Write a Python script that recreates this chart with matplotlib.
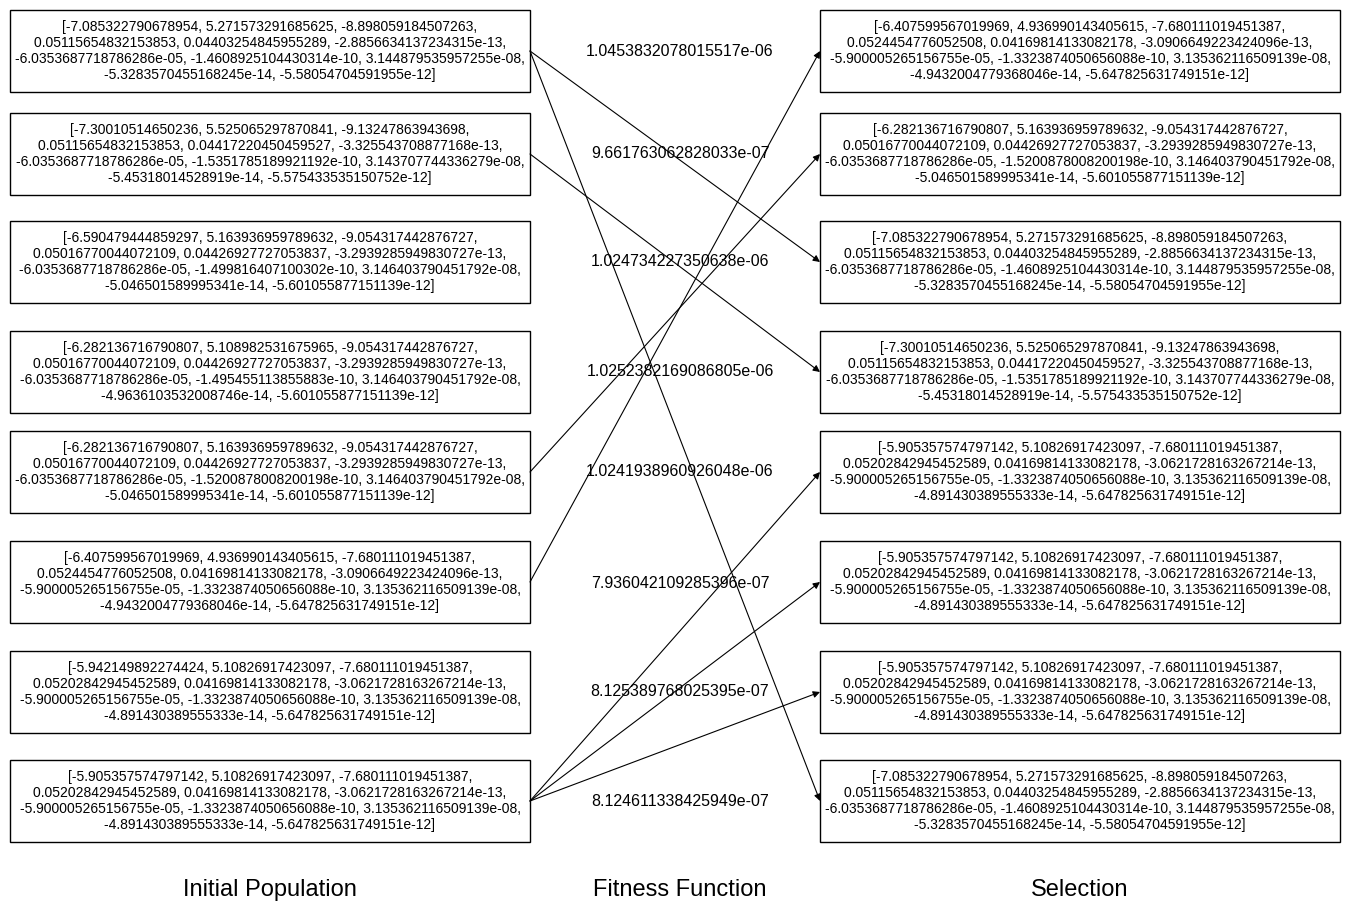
import matplotlib
matplotlib.use("Agg")
import matplotlib.pyplot as plt
from matplotlib.patches import Rectangle

plt.rcParams['font.family'] = ['Liberation Sans', 'DejaVu Sans']

population = [
    "[-7.085322790678954, 5.271573291685625, -8.898059184507263,\n0.05115654832153853, 0.04403254845955289, -2.8856634137234315e-13,\n-6.0353687718786286e-05, -1.4608925104430314e-10, 3.144879535957255e-08,\n-5.3283570455168245e-14, -5.58054704591955e-12]",
    "[-7.30010514650236, 5.525065297870841, -9.13247863943698,\n0.05115654832153853, 0.04417220450459527, -3.325543708877168e-13,\n-6.0353687718786286e-05, -1.5351785189921192e-10, 3.143707744336279e-08,\n-5.45318014528919e-14, -5.575433535150752e-12]",
    "[-6.590479444859297, 5.163936959789632, -9.054317442876727,\n0.05016770044072109, 0.04426927727053837, -3.2939285949830727e-13,\n-6.0353687718786286e-05, -1.499816407100302e-10, 3.146403790451792e-08,\n-5.046501589995341e-14, -5.601055877151139e-12]",
    "[-6.282136716790807, 5.108982531675965, -9.054317442876727,\n0.05016770044072109, 0.04426927727053837, -3.2939285949830727e-13,\n-6.0353687718786286e-05, -1.495455113855883e-10, 3.146403790451792e-08,\n-4.9636103532008746e-14, -5.601055877151139e-12]",
    "[-6.282136716790807, 5.163936959789632, -9.054317442876727,\n0.05016770044072109, 0.04426927727053837, -3.2939285949830727e-13,\n-6.0353687718786286e-05, -1.5200878008200198e-10, 3.146403790451792e-08,\n-5.046501589995341e-14, -5.601055877151139e-12]",
    "[-6.407599567019969, 4.936990143405615, -7.680111019451387,\n0.0524454776052508, 0.04169814133082178, -3.0906649223424096e-13,\n-5.900005265156755e-05, -1.3323874050656088e-10, 3.135362116509139e-08,\n-4.9432004779368046e-14, -5.647825631749151e-12]",
    "[-5.942149892274424, 5.10826917423097, -7.680111019451387,\n0.05202842945452589, 0.04169814133082178, -3.0621728163267214e-13,\n-5.900005265156755e-05, -1.3323874050656088e-10, 3.135362116509139e-08,\n-4.891430389555333e-14, -5.647825631749151e-12]",
    "[-5.905357574797142, 5.10826917423097, -7.680111019451387,\n0.05202842945452589, 0.04169814133082178, -3.0621728163267214e-13,\n-5.900005265156755e-05, -1.3323874050656088e-10, 3.135362116509139e-08,\n-4.891430389555333e-14, -5.647825631749151e-12]",
]
fitness = ["1.0453832078015517e-06", "9.661763062828033e-07", "1.024734227350638e-06",
           "1.0252382169086805e-06", "1.0241938960926048e-06", "7.936042109285396e-07",
           "8.125389768025395e-07", "8.124611338425949e-07"]
# selection[i] = index of the initial individual chosen for slot i
selection = [5, 4, 0, 1, 7, 7, 7, 0]
stage_labels = ["Initial Population", "Fitness Function", "Selection"]

box_tops = [10, 113, 221, 331, 431, 541, 651, 760]
box_h = 82
left_x, right_x, box_w = 10, 820, 520
fit_y = [51, 153, 262, 372, 472, 584, 691, 801]

fig = plt.figure(figsize=(13.51, 9.15), dpi=100)
ax = fig.add_axes([0, 0, 1, 1])
ax.set_xlim(0, 1351)
ax.set_ylim(915, 0)
ax.axis("off")

for i, top in enumerate(box_tops):
    ax.add_patch(Rectangle((left_x, top), box_w, box_h, fill=False, lw=1, ec="black"))
    ax.text(left_x + box_w / 2, top + box_h / 2, population[i], ha="center", va="center",
            fontsize=10.0, linespacing=1.2)
    ax.add_patch(Rectangle((right_x, top), box_w, box_h, fill=False, lw=1, ec="black"))
    ax.text(right_x + box_w / 2, top + box_h / 2, population[selection[i]], ha="center",
            va="center", fontsize=10.0, linespacing=1.2)
    ax.text(680, fit_y[i], fitness[i], ha="center", va="center", fontsize=11.5)

for i, src in enumerate(selection):
    y0 = box_tops[src] + box_h / 2
    y1 = box_tops[i] + box_h / 2
    ax.annotate("", xy=(right_x, y1), xytext=(left_x + box_w, y0),
                arrowprops=dict(arrowstyle="-|>", lw=0.8, color="black", mutation_scale=10,
                                shrinkA=0, shrinkB=0))

for x, lab in zip([270, 680, 1080], stage_labels):
    ax.text(x, 890, lab, ha="center", va="center", fontsize=17)

fig.savefig("out.png", dpi=100)
